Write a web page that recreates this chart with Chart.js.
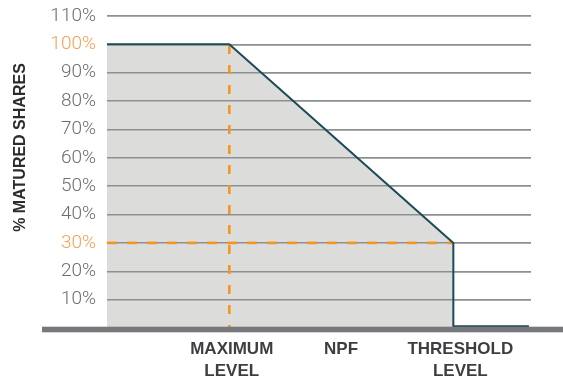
<!DOCTYPE html>
<html>
<head>
<meta charset="utf-8">
<script src="https://cdn.jsdelivr.net/npm/chart.js@4/dist/chart.umd.min.js"></script>
<style>
  html, body { margin: 0; padding: 0; background: #ffffff; }
  #wrap { width: 563px; height: 380px; position: relative; }
</style>
</head>
<body>
<div id="wrap"><canvas id="c" width="563" height="380"></canvas></div>
<script>
// ---- data ----
const levelX      = [0, 1, 2.832, 2.832, 3.45];      // position along performance axis
const maturedPct  = [100, 100, 30, 0.6, 0.6];         // % matured shares
const fillX       = [0, 1, 2.832, 2.832];
const fillPct     = [100, 100, 30, 0];
const categories  = [['MAXIMUM', 'LEVEL'], ['NPF'], ['THRESHOLD', 'LEVEL']];
const categoryX   = [1.02, 1.914, 2.889];
const yTickValues = [0, 10, 20, 30, 40, 50, 60, 70, 80, 90, 100, 110];
const highlightPct = [100, 30];
const maxLevelX   = 1;
const thresholdX  = 2.832;
const xMax        = 3.467;
const yTitle      = '% MATURED SHARES';

const ORANGE = '#f7941e';
const TEAL = '#1b4b58';

const toPts = (xs, ys) => xs.map((x, i) => ({ x: x, y: ys[i] }));

const gridOverFill = {
  id: 'gridOverFill',
  afterDatasetDraw(chart, args) {
    if (args.index === 3) {
      chart.scales.y.drawGrid(chart.chartArea);
    }
  }
};

const axisAndTitle = {
  id: 'axisAndTitle',
  afterDatasetsDraw(chart) {
    const ctx = chart.ctx;
    const y0 = chart.scales.y.getPixelForValue(0);
    ctx.save();
    ctx.fillStyle = '#76787c';
    ctx.fillRect(42, y0 - 1.3, 563 - 42, 5.6);
    ctx.restore();
  },
  afterDraw(chart) {
    const ctx = chart.ctx;
    ctx.save();
    ctx.translate(21, 147.5);
    ctx.rotate(-Math.PI / 2);
    ctx.font = 'bold 16px "Liberation Sans", Arial, sans-serif';
    ctx.fillStyle = '#2b2c2e';
    ctx.textAlign = 'center';
    ctx.textBaseline = 'middle';
    ctx.fillText(yTitle, 0, 0);
    ctx.restore();
  }
};

new Chart(document.getElementById('c'), {
  type: 'line',
  data: {
    datasets: [
      {
        data: toPts(levelX, maturedPct),
        borderColor: TEAL,
        borderWidth: 2,
        pointRadius: 0,
        fill: false,
        tension: 0
      },
      {
        data: toPts([maxLevelX, maxLevelX], [0, highlightPct[0]]),
        borderColor: ORANGE,
        borderWidth: 2.6,
        borderDash: [9, 11],
        borderDashOffset: 6,
        pointRadius: 0,
        fill: false
      },
      {
        data: toPts([0, thresholdX], [highlightPct[1], highlightPct[1]]),
        borderColor: ORANGE,
        borderWidth: 2.6,
        borderDash: [10, 10],
        pointRadius: 0,
        fill: false
      },
      {
        data: toPts(fillX, fillPct),
        borderWidth: 0,
        borderColor: 'rgba(0,0,0,0)',
        backgroundColor: '#dcdddb',
        pointRadius: 0,
        fill: 'origin'
      }
    ]
  },
  options: {
    responsive: false,
    animation: false,
    events: [],
    layout: { padding: { top: 16, right: 32, left: 0, bottom: 0 } },
    plugins: {
      legend: { display: false },
      tooltip: { enabled: false },
      title: { display: false }
    },
    scales: {
      x: {
        type: 'linear',
        min: 0,
        max: xMax,
        afterBuildTicks(scale) {
          scale.ticks = categoryX.map(v => ({ value: v }));
        },
        afterFit(scale) {
          scale.height = 52;
          scale.paddingLeft = 0;
          scale.paddingRight = 0;
        },
        grid: { display: false, drawTicks: false },
        border: { display: false },
        ticks: {
          autoSkip: false,
          maxRotation: 0,
          padding: 10,
          color: '#3c3e41',
          font: { family: '"Liberation Sans Narrow", "Liberation Sans", Arial, sans-serif', size: 17, weight: 'bold', lineHeight: 1.3 },
          callback(value, index) { return categories[index]; }
        }
      },
      y: {
        min: 0,
        max: 110,
        afterBuildTicks(scale) {
          scale.ticks = yTickValues.map(v => ({ value: v }));
        },
        afterFit(scale) {
          scale.width = 107;
          scale.paddingTop = 0;
          scale.paddingBottom = 0;
        },
        grid: { color: '#8d8f92', lineWidth: 1.5, drawTicks: false },
        border: { display: false },
        ticks: {
          padding: 11,
          color(ctx) {
            return highlightPct.includes(ctx.tick.value) ? '#f9a054' : '#6d6e71';
          },
          font: { family: 'Roboto, "Liberation Sans", sans-serif', size: 19, weight: '300' },
          callback(v) { return v === 0 ? '' : v + '%'; }
        }
      }
    }
  },
  plugins: [gridOverFill, axisAndTitle]
});
</script>
</body>
</html>
